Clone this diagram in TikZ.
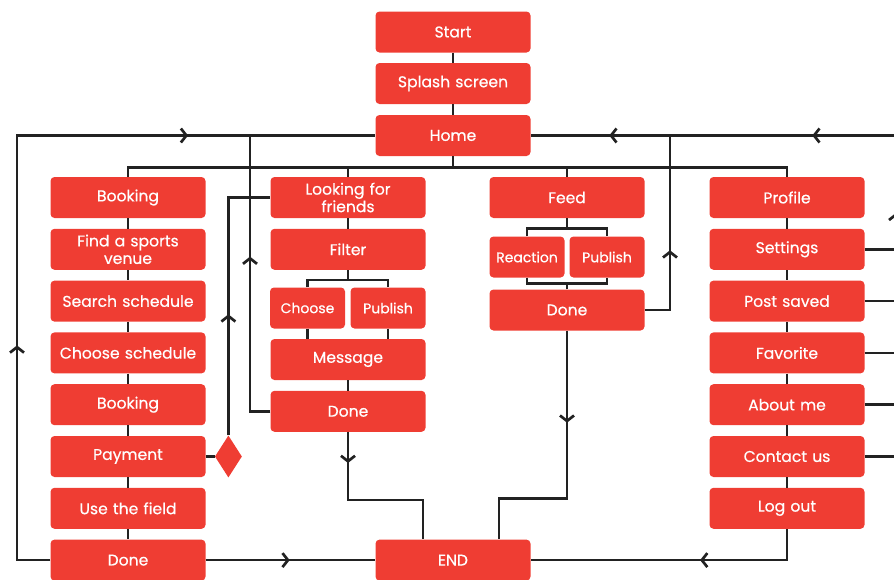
\documentclass[tikz,border=0pt]{standalone}
\usepackage{fontspec}
\setmainfont{Poppins}[FakeBold=0.5]
\usetikzlibrary{positioning,arrows.meta,decorations.markings,shapes.geometric}
\definecolor{boxred}{HTML}{EF3D33}
\definecolor{ink}{HTML}{222222}

\begin{document}
\begin{tikzpicture}[x=1pt, y=-1pt, node distance=10.4pt,
    box/.style = {fill=boxred, text=white, rounded corners=4pt, align=center,
        text width=150pt, inner xsep=2.5pt, inner ysep=0pt, minimum height=41pt,
        font=\fontsize{15.6}{17.5}\selectfont},
    half/.style = {box, text width=70pt, font=\fontsize{14}{16}\selectfont},
    line/.style = {draw=ink, line width=2.7pt},
    mid/.style = {postaction={decorate, decoration={markings,
        mark=at position #1 with {\arrow{Straight Barb[length=5.5pt,width=14pt]}}}}}]
\useasboundingbox (0,0) rectangle (894,579);

% main line
\node[box] (start) at (453,32) {Start};
\node[box] (splash) at (453,83.5) {Splash screen};
\node[box] (home) at (453,135.5) {Home};

% booking
\node[box] (b1) at (128,197.5) {Booking};
\node[box, below=of b1] (b2) {Find a sports\\venue};
\node[box, below=of b2] (b3) {Search schedule};
\node[box, below=of b3] (b4) {Choose schedule};
\node[box, below=of b4] (b5) {Booking};
\node[box, below=of b5] (b6) {Payment};
\node[box, below=of b6] (b7) {Use the field};
\node[box, below=of b7] (b8) {Done};
\node[diamond, fill=boxred, inner sep=0pt, minimum width=27pt, minimum height=42pt,
    right=9pt of b6] (dia) {};
\node[box] (end) at (start |- b8) {END};

% friends
\node[box] (f1) at (348,197.5) {Looking for\\friends};
\node[box, below=of f1] (f2) {Filter};
\node[half] (f3a) at (307.5,308) {Choose};
\node[half] (f3b) at (388,308) {Publish};
\node[box] (f4) at (348,359.5) {Message};
\node[box, below=of f4] (f5) {Done};

% feed
\node[box] (g1) at (567,197.5) {Feed};
\node[half] (g2a) at (527,257) {Reaction};
\node[half] (g2b) at (607,257) {Publish};
\node[box] (g3) at (567,310) {Done};

% profile
\node[box] (p1) at (787,197.5) {Profile};
\node[box, below=of p1] (p2) {Settings};
\node[box, below=of p2] (p3) {Post saved};
\node[box, below=of p3] (p4) {Favorite};
\node[box, below=of p4] (p5) {About me};
\node[box, below=of p5] (p6) {Contact us};
\node[box, below=of p6] (p7) {Log out};

\coordinate (wl) at (17,135.5);
\coordinate (hl) at (250,135.5);
\coordinate (hr) at (670,135.5);
\coordinate (rt) at (896,135.5);

% links
\draw[line] (start) -- (splash);
\draw[line] (splash) -- (home);
\draw[line] (home.south) -- ++(0,11) coordinate (bus);
\draw[line] (b1.north) |- (bus) -| (p1.north);
\draw[line] (f1.north) -- (f1.north |- bus);
\draw[line] (g1.north) -- (g1.north |- bus);
\foreach \a/\b in {b1/b2, b2/b3, b3/b4, b4/b5, b5/b6, b6/b7, b7/b8, f1/f2, f4/f5,
    p1/p2, p2/p3, p3/p4, p4/p5, p5/p6, p6/p7}
    \draw[line] (\a.south) -- (\b.north);

\draw[line] (f2.south) -- ++(0,10) coordinate (fb);
\draw[line] (f3a.north) |- (fb) -| (f3b.north);
\draw[line] (f3a.south) -- (f3a.south |- f4.north);
\draw[line] (f3b.south) -- (f3b.south |- f4.north);
\draw[line] (g1.south) -- ++(0,10) coordinate (gb);
\draw[line] (g2a.north) |- (gb) -| (g2b.north);
\draw[line] (g3.north) -- ++(0,-6) coordinate (gc);
\draw[line] (g2a.south) |- (gc) -| (g2b.south);

% back to home
\draw[line, mid=248pt, mid=629pt] (b8.west) -| (wl) -- (home.west);
\draw[line, mid=175pt] (f5.west) -| (hl);
\draw[line] (b6.east) -- (dia.west);
\draw[line, mid=121pt] (dia.north) |- (f1.west);
\draw[line, mid=85pt] (g3.east) -| (hr);
\draw[line, mid=275pt, mid=436pt, mid=639pt] (p6.east) -| (rt) -- (home.east);
\foreach \n in {p2, p3, p4, p5}
    \draw[line] (\n.east) -- (\n.east -| rt);

% to the end
\draw[line, mid=84pt] (b8.east) -- (end.west);
\draw[line, mid=31pt] (f5.south) -- ++(0,68) -| ([xshift=-30pt]end.north);
\draw[line, mid=92pt] (g3.south) -- ++(0,168) -| ([xshift=46pt]end.north);
\draw[line, mid=118pt] (p7.south) |- (end.east);
\end{tikzpicture}
\end{document}
